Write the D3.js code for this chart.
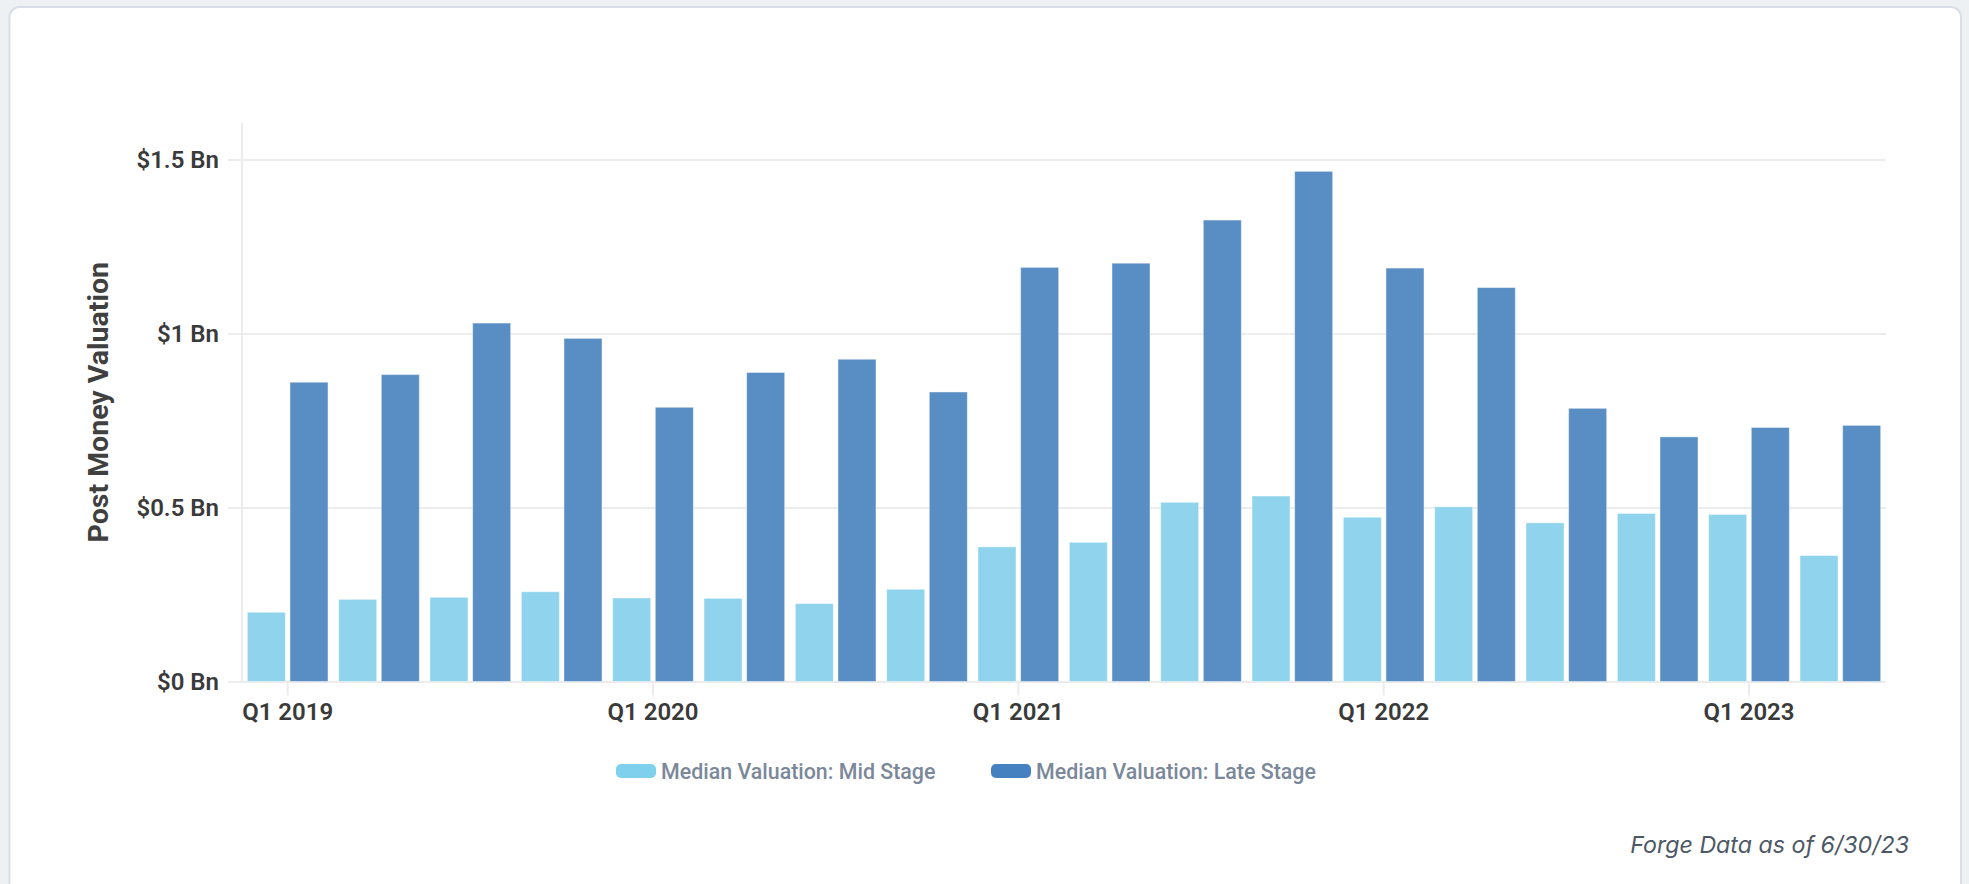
<!DOCTYPE html>
<html lang="en">
	<head>
		<meta charset="utf-8">
		<title>Post Money Valuation</title>
		<script type="text/javascript" src="https://cdn.jsdelivr.net/npm/d3@7/dist/d3.min.js"></script>
		<style type="text/css">
			body {
				margin: 0;
				background-color: #eef1f4;
			}
			svg {
				display: block;
			}
			.axis text {
				font-family: Roboto, sans-serif;
				font-weight: 600;
				font-size: 24px;
				fill: #3a3a3a;
			}
			.axis line {
				stroke: #ececec;
				stroke-width: 2;
			}
			.legend text {
				font-family: Roboto, sans-serif;
				font-weight: 500;
				font-size: 21.4px;
				fill: #7b889a;
			}
		</style>
	</head>
	<body>
		<script type="text/javascript">

			//Data (billions of dollars)
			var quarters = ["Q1 2019", "Q2 2019", "Q3 2019", "Q4 2019",
							"Q1 2020", "Q2 2020", "Q3 2020", "Q4 2020",
							"Q1 2021", "Q2 2021", "Q3 2021", "Q4 2021",
							"Q1 2022", "Q2 2022", "Q3 2022", "Q4 2022",
							"Q1 2023", "Q2 2023"];
			var midStage = [0.199, 0.236, 0.242, 0.258, 0.240, 0.239, 0.224, 0.265,
							0.387, 0.400, 0.515, 0.533, 0.472, 0.502, 0.456, 0.483,
							0.480, 0.362];
			var lateStage = [0.860, 0.882, 1.030, 0.986, 0.788, 0.888, 0.926, 0.832,
							 1.190, 1.202, 1.326, 1.466, 1.188, 1.132, 0.785, 0.703,
							 0.730, 0.736];
			var yTicks = [0, 0.5, 1, 1.5];
			var xTicks = ["Q1 2019", "Q1 2020", "Q1 2021", "Q1 2022", "Q1 2023"];
			var seriesNames = ["Median Valuation: Mid Stage", "Median Valuation: Late Stage"];

			//Width and height
			var w = 1969;
			var h = 884;
			var plotLeft = 242, plotRight = 1886, plotTop = 124.7, plotBottom = 681.5;

			var barColors = ["#8fd4ec", "#588ec4"];
			var legendColors = ["#7fd0ec", "#4581c0"];

			var dataset = quarters.map(function(q, i) {
				return { quarter: q, values: [midStage[i], lateStage[i]] };
			});

			//Scales
			var xScale = d3.scaleBand()
						   .domain(quarters)
						   .range([plotLeft, plotRight]);

			var x1 = d3.scaleBand()
					   .domain([0, 1])
					   .range([0, xScale.bandwidth()])
					   .paddingInner(0.108)
					   .paddingOuter(0.125);

			var yScale = d3.scaleLinear()
						   .domain([0, 1.6])
						   .range([plotBottom, plotTop]);

			var svg = d3.select("body")
						.append("svg")
						.attr("width", w)
						.attr("height", h);

			//Card
			svg.append("rect")
			   .attr("x", 9.5)
			   .attr("y", 7)
			   .attr("width", 1951.5)
			   .attr("height", 920)
			   .attr("rx", 10)
			   .attr("fill", "#ffffff")
			   .attr("stroke", "#d7dee6")
			   .attr("stroke-width", 2);

			//Y axis (grid lines run from the right edge back past the axis line)
			var yAxis = d3.axisLeft(yScale)
						  .tickValues(yTicks)
						  .tickSize(plotRight - 228)
						  .tickPadding(9)
						  .tickFormat(function(d) { return "$" + d + " Bn"; });

			svg.append("g")
			   .attr("class", "axis")
			   .attr("transform", "translate(" + plotRight + ",0)")
			   .call(yAxis)
			   .call(function(g) { g.select(".domain").remove(); });

			//Y axis line
			svg.append("line")
			   .attr("x1", plotLeft)
			   .attr("x2", plotLeft)
			   .attr("y1", 123)
			   .attr("y2", plotBottom)
			   .attr("stroke", "#ececec")
			   .attr("stroke-width", 2);

			//X axis
			var xAxis = d3.axisBottom(xScale)
						  .tickValues(xTicks)
						  .tickSize(14)
						  .tickPadding(7);

			svg.append("g")
			   .attr("class", "axis")
			   .attr("transform", "translate(0," + plotBottom + ")")
			   .call(xAxis)
			   .call(function(g) { g.select(".domain").remove(); });

			//Bars
			var groups = svg.selectAll("g.quarter")
							.data(dataset)
							.enter()
							.append("g")
							.attr("class", "quarter")
							.attr("transform", function(d) {
								return "translate(" + xScale(d.quarter) + ",0)";
							});

			groups.selectAll("rect")
				  .data(function(d) { return d.values; })
				  .enter()
				  .append("rect")
				  .attr("x", function(d, i) { return x1(i); })
				  .attr("y", function(d) { return yScale(d); })
				  .attr("width", x1.bandwidth())
				  .attr("height", function(d) { return plotBottom - yScale(d); })
				  .attr("fill", function(d, i) { return barColors[i]; })
				  .attr("stroke", "rgba(255,255,255,0.45)")
				  .attr("stroke-width", 1);

			//Y axis title
			svg.append("text")
			   .attr("transform", "translate(98," + ((123 + plotBottom) / 2) + ") rotate(-90)")
			   .attr("text-anchor", "middle")
			   .attr("dy", "0.35em")
			   .style("font-family", "Roboto, sans-serif")
			   .style("font-weight", "700")
			   .style("font-size", "28.5px")
			   .style("fill", "#404040")
			   .text("Post Money Valuation");

			//Legend
			var legendX = [616, 991];
			var legend = svg.append("g")
							.attr("class", "legend")
							.selectAll("g")
							.data(seriesNames)
							.enter()
							.append("g")
							.attr("transform", function(d, i) {
								return "translate(" + legendX[i] + ",771)";
							});

			legend.append("rect")
				  .attr("x", 0)
				  .attr("y", -7)
				  .attr("width", 40)
				  .attr("height", 14)
				  .attr("rx", 5)
				  .attr("fill", function(d, i) { return legendColors[i]; });

			legend.append("text")
				  .attr("x", 45)
				  .attr("dy", "0.35em")
				  .text(function(d) { return d; });

			//Footnote
			svg.append("text")
			   .attr("x", 1909)
			   .attr("y", 853)
			   .attr("text-anchor", "end")
			   .style("font-family", "Inter, sans-serif")
			   .style("font-style", "italic")
			   .style("font-size", "23.2px")
			   .style("fill", "#4d5866")
			   .text("Forge Data as of 6/30/23");

		</script>
	</body>
</html>
